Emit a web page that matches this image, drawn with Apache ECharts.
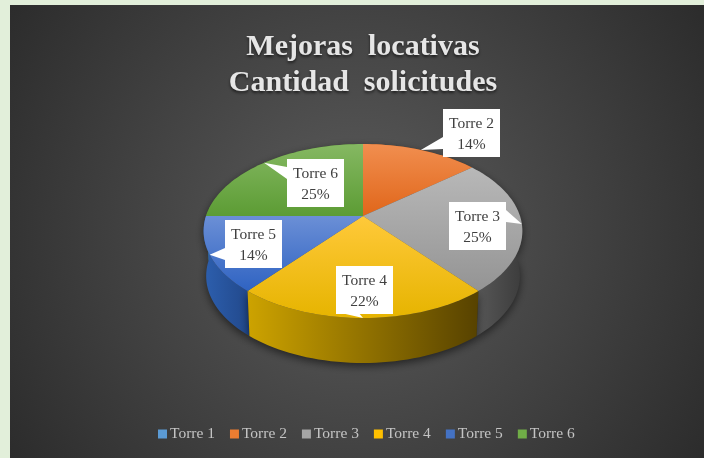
<!DOCTYPE html>
<html><head><meta charset="utf-8">
<style>html,body{margin:0;padding:0;background:#e2efda}#c{width:704px;height:458px}</style>
<script src="https://cdn.jsdelivr.net/npm/echarts@6/dist/echarts.min.js"></script>
</head><body><div id="c"></div>
<script>
const categories = ['Torre 1','Torre 2','Torre 3','Torre 4','Torre 5','Torre 6'];
const values = [0,14,25,22,14,25];
const titleLines = ['Mejoras  locativas','Cantidad  solicitudes'];

const legendColors = ['#5b9bd5','#ed7d31','#a5a5a5','#ffc000','#4472c4','#70ad47'];
const topLight = ['#7fb3e0','#f18e4f','#b8b8b8','#ffc93a','#6b8fd6','#85b862'];
const topDark  = ['#4a8ccb','#e0661a','#949494','#e6b400','#2f63c2','#5c9c34'];
const sideFrom = ['#3a6f9f','#a8551c','#5a5a5a','#cda300','#2d5fae','#4d7a30'];
const sideTo   = ['#2a5a85','#7a3f14','#3c3c3c','#574200','#22498c','#3c6024'];
const labelBoxes = [null,[443,109],[449,202],[336,266],[225,220],[287,159]];
const BOX_W = 57, BOX_H = 48;

const TOP = {cx:363, cy:216, a:157, b:84.4, k:0.1724};
const BOT = {cx:363, cy:261, a:154.5, b:84.4, k:0.1724};
const total = values.reduce((s,v)=>s+v,0);

function rim(deg,p){
  const r = deg*Math.PI/180, x = Math.sin(r), y = -Math.cos(r), w = 1-p.k*y;
  return [p.cx+p.a*x/w, p.cy+p.b*y/w];
}
function arc(a0,a1,p){
  const pts=[], n=Math.max(2,Math.ceil((a1-a0)/2));
  for(let i=0;i<=n;i++) pts.push(rim(a0+(a1-a0)*i/n,p));
  return pts;
}
function callout(l,t,w,h,tip){
  const cx=l+w/2, cy=t+h/2, dx=(tip[0]-cx)/w, dy=(tip[1]-cy)/h;
  const r=l+w, b=t+h, pts=[[l,t]];
  const bx=dx<0?[l+w*2/12,l+w*5/12]:[l+w*7/12,l+w*10/12];
  const by=dy<0?[t+h*2/12,t+h*5/12]:[t+h*7/12,t+h*10/12];
  const horiz=Math.abs(dx)>Math.abs(dy);
  if(!horiz&&dy<0) pts.push([bx[0],t],tip,[bx[1],t]);
  pts.push([r,t]);
  if(horiz&&dx>0) pts.push([r,by[0]],tip,[r,by[1]]);
  pts.push([r,b]);
  if(!horiz&&dy>0) pts.push([bx[1],b],tip,[bx[0],b]);
  pts.push([l,b]);
  if(horiz&&dx<0) pts.push([l,by[1]],tip,[l,by[0]]);
  return pts;
}
function makeRender(i){
  return function(params,api){
    const v=api.value(0);
    if(!v) return {type:'group',children:[]};
    const start=values.slice(0,i).reduce((s,x)=>s+x,0)/total*360;
    const end=start+v/total*360, mid=(start+end)/2;
    const topArc=arc(start,end,TOP), botArc=arc(start,end,BOT).reverse();
    const xs=topArc.map(p=>p[0]), x0=Math.min(...xs), x1=Math.max(...xs);
    const tip=rim(mid,TOP), box=labelBoxes[i];
    const tx=box[0]+BOX_W/2, ty=box[1]+BOX_H/2;
    const font='15.5px "Liberation Serif"';
    return {type:'group',children:[
      {type:'polygon',z2:1+(i===4?2:i===3?3:i===2?1:0),shape:{points:topArc.concat(botArc)},
       style:{fill:{type:'linear',x:x0,y:0,x2:x1,y2:0,global:true,
          colorStops:[{offset:0,color:sideFrom[i]},{offset:1,color:sideTo[i]}]},
          shadowBlur:9,shadowColor:'rgba(0,0,0,0.55)',shadowOffsetY:3}},
      {type:'polygon',z2:10,shape:{points:[rim(start,{...TOP,a:0,b:0})].concat(topArc)},
       style:{fill:{type:'linear',x:0,y:0,x2:0,y2:1,
          colorStops:[{offset:0,color:topLight[i]},{offset:1,color:topDark[i]}]}}},
      {type:'polygon',z2:20,shape:{points:callout(box[0],box[1],BOX_W,BOX_H,tip)},style:{fill:'#ffffff'}},
      {type:'text',z2:21,style:{text:categories[i],x:tx,y:ty-9,align:'center',verticalAlign:'middle',font:font,fill:'#404040'}},
      {type:'text',z2:21,style:{text:Math.round(v/total*100)+'%',x:tx,y:ty+12,align:'center',verticalAlign:'middle',font:font,fill:'#404040'}}
    ]};
  };
}
const chart=echarts.init(document.getElementById('c'),null,{renderer:'canvas'});
chart.setOption({
  animation:false,
  backgroundColor:'#e2efda',
  title:{text:titleLines.join('\n'),left:358,top:24,textAlign:'center',
    textStyle:{fontFamily:'"Liberation Serif"',fontSize:30,fontWeight:'bold',color:'#e6e6e6',lineHeight:36,
      textShadowBlur:3,textShadowColor:'rgba(0,0,0,0.6)',textShadowOffsetY:2}},
  legend:{left:153,top:421,itemWidth:9,itemHeight:9,itemGap:15,icon:'rect',
    data:categories,selectedMode:false,
    textStyle:{fontFamily:'"Liberation Serif"',fontSize:15.5,color:'#c4c4c4',padding:[0,0,0,-2]}},
  graphic:[{type:'rect',z:-1,shape:{x:10,y:5,width:694,height:453},silent:true,
    style:{fill:{type:'radial',x:0.5,y:0.5,r:0.95,
      colorStops:[{offset:0,color:'#5c5c5c'},{offset:1,color:'#2a2a2a'}]}}}],
  xAxis:{show:false},yAxis:{show:false},
  series:categories.map((name,i)=>({
    name,type:'custom',coordinateSystem:'none',z:3,silent:true,
    itemStyle:{color:legendColors[i]},
    renderItem:makeRender(i),
    data:[[values[i]]],
    encode:{value:0}
  }))
});
</script></body></html>
